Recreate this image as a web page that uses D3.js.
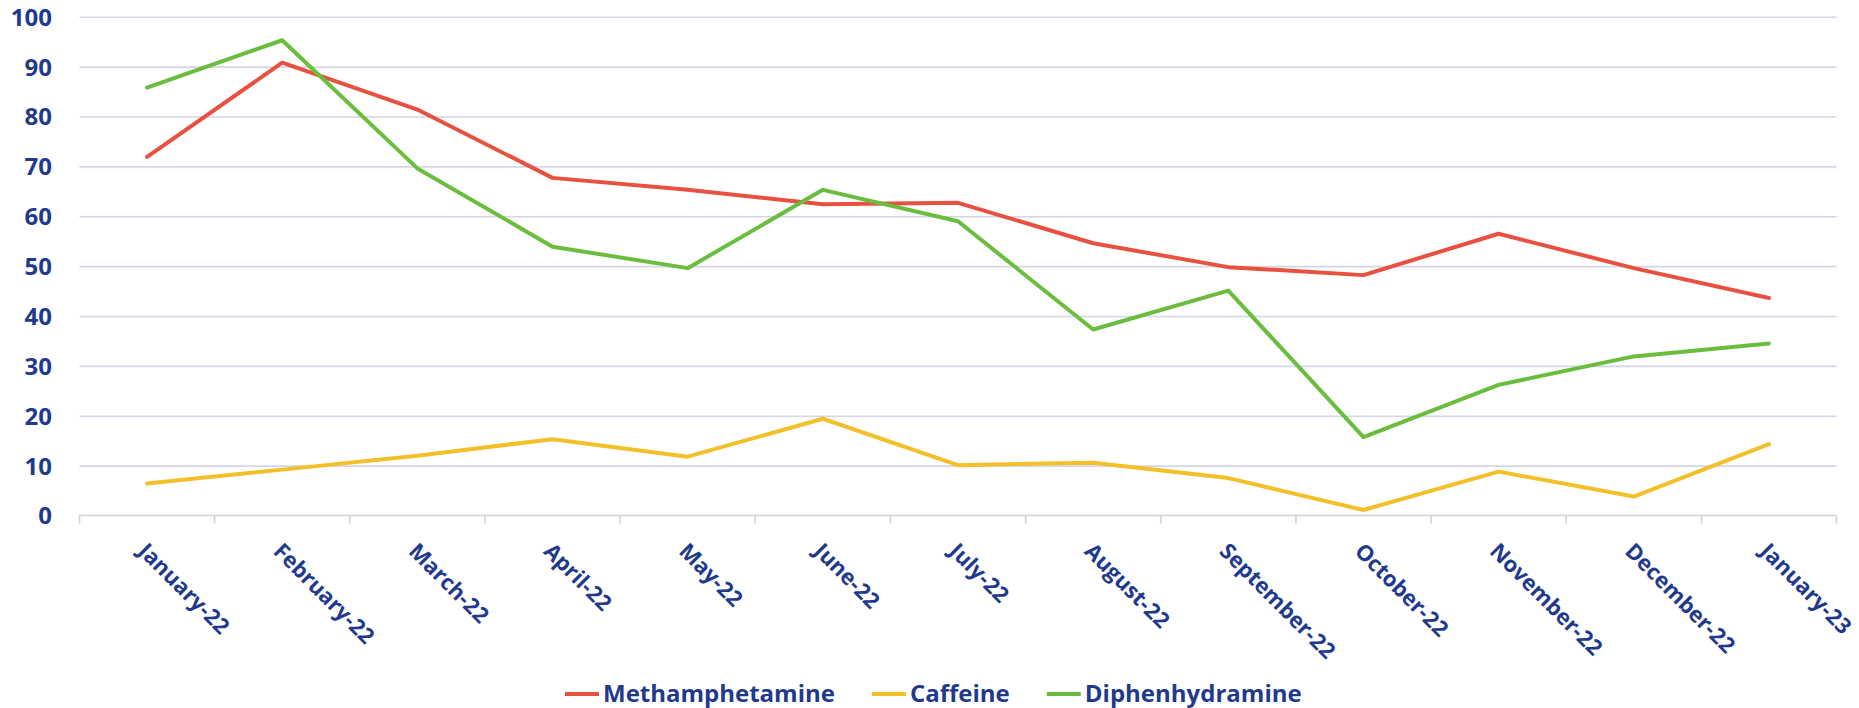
<!DOCTYPE html>
<html>
<head>
<meta charset="utf-8">
<script src="https://cdn.jsdelivr.net/npm/d3@7"></script>
<style>
    body { margin: 0; background: #fff; }
    svg { display: block; font-family: "Open Sans", sans-serif; }
</style>
</head>
<body>
<svg id="chart"></svg>
<script>
// data
var months = ["January-22", "February-22", "March-22", "April-22", "May-22", "June-22",
    "July-22", "August-22", "September-22", "October-22", "November-22", "December-22", "January-23"];
var methamphetamine = [71.9, 90.8, 81.4, 67.7, 65.3, 62.4, 62.7, 54.6, 49.8, 48.2, 56.5, 49.6, 43.6];
var caffeine = [6.4, 9.2, 12.0, 15.3, 11.8, 19.4, 10.1, 10.6, 7.5, 1.1, 8.8, 3.8, 14.3];
var diphenhydramine = [85.8, 95.3, 69.6, 53.9, 49.6, 65.3, 59.0, 37.3, 45.1, 15.7, 26.2, 31.9, 34.5];
var seriesNames = ["Methamphetamine", "Caffeine", "Diphenhydramine"];
var seriesColors = ["#e8503f", "#f4c02a", "#6bbd3e"];
var yTicks = [0, 10, 20, 30, 40, 50, 60, 70, 80, 90, 100];

var W = 1859, H = 708;
var textColor = "#1f3a8c";

var svg = d3.select("#chart")
    .attr("width", W)
    .attr("height", H);

var x = d3.scaleBand()
    .domain(months)
    .range([79.5, 1836.5]);

var y = d3.scaleLinear()
    .domain([0, 100])
    .range([515.5, 16.8]);

// horizontal grid
svg.append("g")
    .attr("class", "grid")
    .attr("transform", "translate(79.5,0)")
    .call(d3.axisLeft(y).tickValues(yTicks.slice(1)).tickSize(-(1836.5 - 79.5)).tickFormat(""))
    .call(function (g) {
        g.select(".domain").remove();
        g.selectAll("line").attr("stroke", "#d3d6e7").attr("stroke-width", 1.6);
    });

// y labels
svg.append("g")
    .attr("transform", "translate(79.5,0)")
    .call(d3.axisLeft(y).tickValues(yTicks).tickSize(0).tickPadding(27.5))
    .call(function (g) {
        g.select(".domain").remove();
        g.selectAll("text")
            .attr("fill", textColor)
            .attr("font-size", 24)
            .attr("font-weight", 700)
            .attr("font-family", "Open Sans")
            .attr("dy", "0.35em");
    });

// x axis line + ticks at category edges
var xg = svg.append("g").attr("transform", "translate(0," + y(0) + ")");
xg.append("line")
    .attr("x1", x.range()[0]).attr("x2", x.range()[1])
    .attr("stroke", "#d2d2d6").attr("stroke-width", 1.6);
xg.selectAll(".edge")
    .data(months.map(function (m) { return x(m); }).concat([x.range()[1]]))
    .enter().append("line")
    .attr("class", "edge")
    .attr("x1", function (d) { return d; })
    .attr("x2", function (d) { return d; })
    .attr("y1", 0).attr("y2", 8)
    .attr("stroke", "#d2d2d6").attr("stroke-width", 1.6);

// rotated month labels
svg.append("g")
    .attr("transform", "translate(0," + y(0) + ")")
    .call(d3.axisBottom(x).tickSize(0))
    .call(function (g) {
        g.select(".domain").remove();
        g.selectAll("text")
            .attr("x", 0).attr("y", 0).attr("dy", 0)
            .attr("transform", "translate(-10,37) rotate(45)")
            .attr("text-anchor", "start")
            .attr("fill", textColor)
            .attr("font-size", 22)
            .attr("font-weight", 700)
            .attr("font-family", "Open Sans");
    });

// series lines
var series = [methamphetamine, caffeine, diphenhydramine];
var line = d3.line()
    .x(function (d, i) { return x(months[i]) + x.bandwidth() / 2; })
    .y(function (d) { return y(d); });

svg.selectAll(".series")
    .data(series)
    .enter().append("path")
    .attr("class", "series")
    .attr("fill", "none")
    .attr("stroke", function (d, i) { return seriesColors[i]; })
    .attr("stroke-width", 4)
    .attr("stroke-linejoin", "round")
    .attr("stroke-linecap", "round")
    .attr("d", line);

// legend
var legend = svg.append("g").attr("class", "legend");
var lx = 565, ly = 694;
seriesNames.forEach(function (name, i) {
    var item = legend.append("g").attr("transform", "translate(" + lx + "," + ly + ")");
    item.append("line")
        .attr("x1", 0).attr("x2", 34)
        .attr("stroke", seriesColors[i])
        .attr("stroke-width", 4);
    var t = item.append("text")
        .attr("x", 38)
        .attr("dy", "0.35em")
        .attr("fill", textColor)
        .attr("font-size", 24)
        .attr("font-weight", 700)
        .attr("font-family", "Open Sans")
        .text(name);
    lx += 38 + t.node().getComputedTextLength() + 37;
});
</script>
</body>
</html>
